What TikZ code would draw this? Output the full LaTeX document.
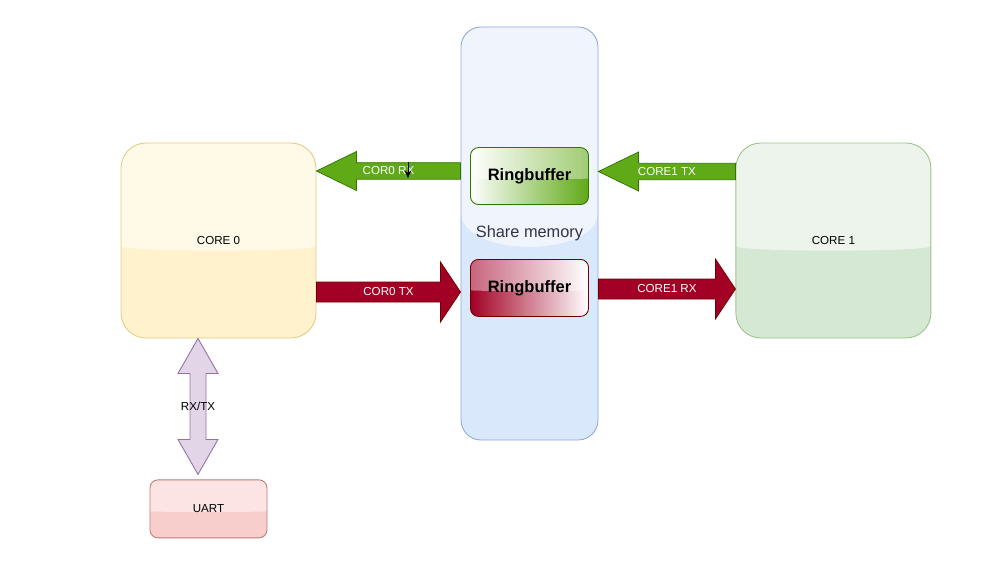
\documentclass[tikz,border=0pt]{standalone}
\usepackage{fontspec}
\setmainfont{Liberation Sans}
\usetikzlibrary{calc,arrows.meta,positioning}

\definecolor{CoreYellow}{HTML}{FFF2CC}
\definecolor{CoreYellowLine}{HTML}{E3CB85}
\definecolor{CoreGreen}{HTML}{D5E8D4}
\definecolor{CoreGreenLine}{HTML}{9CC48A}
\definecolor{MemBlue}{HTML}{DAE8FC}
\definecolor{MemBlueLine}{HTML}{8DAAD6}
\definecolor{MemText}{HTML}{333344}
\definecolor{BufGreen}{HTML}{60A917}
\definecolor{BufGreenLine}{HTML}{2D7600}
\definecolor{BufRed}{HTML}{A20025}
\definecolor{BufRedLine}{HTML}{6F0000}
\definecolor{UartRed}{HTML}{F8CECC}
\definecolor{UartRedLine}{HTML}{C07A77}
\definecolor{LinkPurple}{HTML}{E1D5E7}
\definecolor{LinkPurpleLine}{HTML}{9673A6}

\tikzset{
  % light top half, like the glass option of the editor
  glass/.style={path picture={
    \fill[white, fill opacity=#1]
      (path picture bounding box.north west) -- (path picture bounding box.north east)
      -- ($(path picture bounding box.north east)!0.4!(path picture bounding box.south east)$)
      .. controls ($(path picture bounding box.north east)!0.56!(path picture bounding box.south east)$)
      and ($(path picture bounding box.north west)!0.56!(path picture bounding box.south west)$)
      .. ($(path picture bounding box.north west)!0.4!(path picture bounding box.south west)$) -- cycle;}},
  glass/.default=0.55,
  % flat block arrow: shaft half width / head half width / head length
  bararrow/.style args={#1/#2/#3}{to path={
    let \p1=(\tikztostart), \p2=(\tikztotarget), \p3=($(\tikztotarget)!#3!(\tikztostart)$) in
    (\x1,\y1+#1) -- (\x3,\y1+#1) -- (\x3,\y1+#2) -- (\x2,\y1) -- (\x3,\y1-#2)
    -- (\x3,\y1-#1) -- (\x1,\y1-#1) -- cycle}},
  dblarrow/.style args={#1/#2/#3}{to path={
    let \p1=(\tikztostart), \p2=(\tikztotarget),
        \p3=($(\tikztostart)!#3!(\tikztotarget)$), \p4=($(\tikztotarget)!#3!(\tikztostart)$) in
    (\x1,\y1) -- (\x1+#2,\y3) -- (\x1+#1,\y3) -- (\x1+#1,\y4) -- (\x1+#2,\y4) -- (\x1,\y2)
    -- (\x1-#2,\y4) -- (\x1-#1,\y4) -- (\x1-#1,\y3) -- (\x1-#2,\y3) -- cycle}}
}

\begin{document}
\begin{tikzpicture}[
    core/.style={draw, line width=0.5pt, rounded corners=0.5cm, minimum width=3.9cm, minimum height=3.9cm,
      font=\fontsize{6.6}{8}\selectfont, glass},
    mem/.style={draw=MemBlueLine, fill=MemBlue, line width=0.5pt, rounded corners=0.4cm,
      minimum width=2.74cm, minimum height=8.26cm, font=\fontsize{9.3}{11}\selectfont, text=MemText, glass=0.6},
    ring/.style={draw, line width=0.5pt, rounded corners=0.16cm, minimum width=2.36cm, minimum height=1.14cm,
      font=\fontsize{9.4}{11}\selectfont\bfseries, glass=0.4},
    uartbox/.style={draw=UartRedLine, fill=UartRed, line width=0.5pt, rounded corners=0.16cm,
      minimum width=2.34cm, minimum height=1.16cm, font=\fontsize{6.6}{8}\selectfont, glass=0.45},
    greenbar/.style={bararrow={0.165cm/0.39cm/0.8cm}, fill=BufGreen, draw=BufGreenLine, line width=0.4pt},
    redbar/.style={bararrow={0.2cm/0.6cm/0.4cm}, fill=BufRed, draw=BufRedLine, line width=0.4pt},
    linkbar/.style={dblarrow={0.16cm/0.4cm/0.7cm}, fill=LinkPurple, draw=LinkPurpleLine, line width=0.5pt},
    barlabel/.style={font=\fontsize{6.6}{8}\selectfont, text=white},
    linklabel/.style={font=\fontsize{6.6}{8}\selectfont}
]
    \useasboundingbox (0,0) rectangle (20,11.22);

    \node[core, draw=CoreYellowLine, fill=CoreYellow] (core0) at (4.37,6.41) {CORE 0};
    \node[core, draw=CoreGreenLine, fill=CoreGreen, right=8.38cm of core0] (core1) {CORE 1};
    \node[mem] (shm) at (10.59,6.55) {Share memory};
    \node[ring, draw=BufGreenLine, left color=white, right color=BufGreen, above=0.57cm of shm.center] (ringg) {Ringbuffer};
    \node[ring, draw=BufRedLine, left color=BufRed, right color=white, below=0.51cm of shm.center] (ringr) {Ringbuffer};
    \node[uartbox, below=2.82cm of core0, xshift=-0.2cm] (uart) {UART};

    % levels of the arrows
    \coordinate (rx0) at (0,7.80);
    \coordinate (tx1) at (0,7.79);
    \coordinate (tx0) at (0,5.38);
    \coordinate (rx1) at (0,5.44);
    \coordinate (link) at (3.96,0);
    \coordinate (linkend) at ($(uart.north)+(0,0.1)$);

    \draw[greenbar] (shm.west |- rx0) to (core0.east |- rx0);
    \draw[greenbar] (core1.west |- tx1) to (shm.east |- tx1);
    \draw[redbar] (core0.east |- tx0) to (shm.west |- tx0);
    \draw[redbar] (shm.east |- rx1) to (core1.west |- rx1);
    \draw[linkbar] (core0.south -| link) to (linkend -| link);

    \path (shm.west |- rx0) -- (core0.east |- rx0) node[midway, barlabel] {COR0 RX};
    \path (core1.west |- tx1) -- (shm.east |- tx1) node[midway, barlabel] {CORE1 TX};
    \path (core0.east |- tx0) -- (shm.west |- tx0) node[midway, barlabel] {COR0 TX};
    \path (shm.east |- rx1) -- (core1.west |- rx1) node[midway, barlabel] {CORE1 RX};
    \path (core0.south -| link) -- (linkend -| link) node[midway, linklabel] {RX/TX};

    % pointer left on the picture
    \coordinate (pointer) at (8.16,7.97);
    \draw[-{Stealth[length=1.5mm, width=1.3mm]}, line width=0.5pt] (pointer) -- ++(0,-0.31);
\end{tikzpicture}
\end{document}
